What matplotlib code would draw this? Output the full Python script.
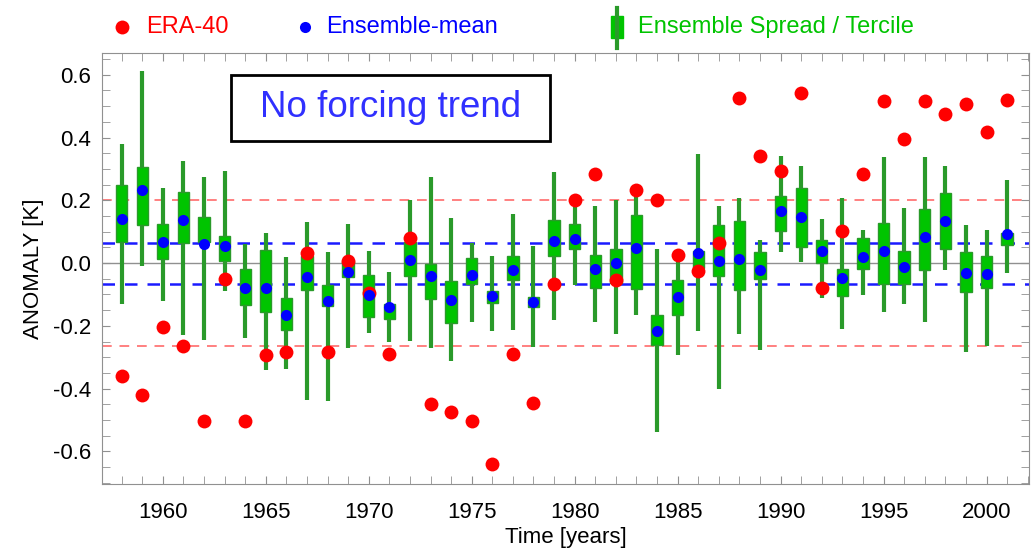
import numpy as np
import matplotlib
matplotlib.use('Agg')
import matplotlib.pyplot as plt
from matplotlib.lines import Line2D
from matplotlib.patches import Rectangle
from matplotlib.ticker import MultipleLocator

plt.rcParams['font.family'] = ['Liberation Sans', 'DejaVu Sans']

years = np.arange(1958, 2002)

# ERA-40 anomalies
era = [-0.360, -0.421, -0.203, -0.265, -0.503, -0.051, -0.503, -0.294, -0.283, 0.032,
       -0.283, 0.007, -0.095, -0.289, 0.079, -0.450, -0.474, -0.503, -0.640, -0.291,
       -0.447, -0.067, 0.200, 0.284, -0.053, 0.233, 0.200, 0.026, -0.026, 0.063,
       0.527, 0.341, 0.294, 0.542, -0.079, 0.101, 0.284, 0.515, 0.394, 0.515,
       0.474, 0.508, 0.418, 0.521]

# ensemble mean
ens_mean = [0.140, 0.233, 0.066, 0.138, 0.060, 0.055, -0.079, -0.079, -0.164, -0.046,
            -0.122, -0.030, -0.103, -0.141, 0.011, -0.042, -0.119, -0.037, -0.106, -0.021,
            -0.124, 0.071, 0.077, -0.018, 0.000, 0.047, -0.217, -0.108, 0.032, 0.005,
            0.013, -0.023, 0.166, 0.148, 0.037, -0.048, 0.019, 0.037, -0.011, 0.083,
            0.135, -0.032, -0.035, 0.093]

# spread (whisker) and tercile (box)
spread_hi = [0.381, 0.611, 0.238, 0.325, 0.273, 0.294, 0.061, 0.097, 0.019, 0.132,
             0.034, 0.125, 0.037, -0.030, 0.201, 0.275, 0.145, 0.063, 0.024, 0.156,
             0.053, 0.291, 0.196, 0.182, 0.201, 0.214, 0.044, 0.008, 0.347, 0.182,
             0.206, 0.072, 0.341, 0.310, 0.140, 0.206, 0.106, 0.337, 0.177, 0.337,
             0.310, 0.122, 0.106, 0.265]
spread_lo = [-0.132, -0.008, -0.122, -0.228, -0.246, -0.090, -0.238, -0.341, -0.339, -0.437,
             -0.439, -0.272, -0.222, -0.252, -0.247, -0.272, -0.312, -0.188, -0.217, -0.212,
             -0.268, -0.180, -0.069, -0.188, -0.225, -0.167, -0.538, -0.294, -0.217, -0.400,
             -0.225, -0.278, 0.034, 0.002, -0.111, -0.210, -0.101, -0.157, -0.132, -0.188,
             -0.023, -0.284, -0.265, -0.032]
terc_hi = [0.249, 0.305, 0.125, 0.228, 0.146, 0.085, -0.019, 0.042, -0.111, 0.021,
           -0.069, 0.005, -0.037, -0.132, 0.066, -0.003, -0.056, 0.016, -0.090, 0.023,
           -0.108, 0.138, 0.125, 0.026, 0.044, 0.153, -0.164, -0.053, 0.037, 0.122,
           0.135, 0.034, 0.215, 0.238, 0.072, -0.018, 0.079, 0.127, 0.039, 0.171,
           0.224, 0.034, 0.023, 0.097]
terc_lo = [0.066, 0.120, 0.013, 0.063, 0.068, 0.005, -0.135, -0.157, -0.212, -0.087,
           -0.138, -0.045, -0.172, -0.178, -0.040, -0.113, -0.190, -0.066, -0.127, -0.055,
           -0.140, 0.021, 0.044, -0.079, -0.063, -0.083, -0.262, -0.164, -0.016, -0.040,
           -0.087, -0.051, 0.101, 0.051, 0.000, -0.106, -0.019, -0.066, -0.066, -0.021,
           0.046, -0.092, -0.079, 0.058]

era_band = [0.200, -0.265]
ens_band = [0.063, -0.068]

fig = plt.figure(figsize=(10.36, 5.56), dpi=100)
ax = fig.add_axes([0.0985, 0.129, 0.8945, 0.776])

grey = '#909090'
ax.axhline(0, color=grey, lw=1, zorder=1)
for v in era_band:
    ax.axhline(v, color='#ff8080', lw=1.4, ls=(0, (5, 4)), zorder=1)
for v in ens_band:
    ax.axhline(v, color='#1a1aff', lw=1.8, ls=(0, (5, 4)), zorder=1)

tl = np.array(terc_lo); th = np.array(terc_hi)
ax.vlines(years, spread_lo, spread_hi, color='#2a9a2a', lw=3, zorder=2)
ax.bar(years, th - tl, bottom=tl, width=0.55, color='#00c400',
       edgecolor='#2a9a2a', lw=1, zorder=3)
ax.plot(years, era, 'o', color='#ff0000', ms=10, mec='none', zorder=4)
ax.plot(years, ens_mean, 'o', color='#0000ff', ms=8, mec='none', zorder=5)

ax.set_xlim(1957.05, 2002.05)
ax.set_ylim(-0.705, 0.67)
ax.xaxis.set_major_locator(MultipleLocator(5))
ax.xaxis.set_minor_locator(MultipleLocator(1))
ax.yaxis.set_major_locator(MultipleLocator(0.2))
ax.yaxis.set_minor_locator(MultipleLocator(0.05))
ax.yaxis.set_major_formatter(plt.FuncFormatter(lambda v, p: '%.1f' % v))
ax.tick_params(which='both', direction='in', top=True, right=True, color=grey,
               length=6, labelsize=16)
ax.tick_params(axis='x', pad=13)
ax.tick_params(axis='y', pad=8)
for s in ax.spines.values():
    s.set_color(grey)
ax.set_xlabel('Time [years]', fontsize=16, labelpad=3)
ax.set_ylabel('ANOMALY [K]', fontsize=16, labelpad=6)

# annotation box
ax.add_patch(Rectangle((0.139, 0.796), 0.344, 0.153, transform=ax.transAxes,
                       facecolor='white', edgecolor='black', lw=2, zorder=6))
ax.text(0.3115, 0.873, 'No forcing trend', transform=ax.transAxes, fontsize=26.5,
        color='#3030ff', ha='center', va='center', zorder=7)

# legend drawn above the axes
ly = 1 - 27 / 556
fig.add_artist(Line2D([122 / 1036], [ly], marker='o', color='#ff0000', ms=10, mec='none',
                      transform=fig.transFigure))
fig.text(146 / 1036, ly, 'ERA-40', color='#ff0000', fontsize=17, va='center')
fig.add_artist(Line2D([305 / 1036], [ly], marker='o', color='#0000ff', ms=8, mec='none',
                      transform=fig.transFigure))
fig.text(326 / 1036, ly, 'Ensemble-mean', color='#0000ff', fontsize=17, va='center')
fig.add_artist(Line2D([617 / 1036, 617 / 1036], [1 - 8 / 556, 1 - 48 / 556], color='#2a9a2a',
                      lw=3, transform=fig.transFigure))
fig.add_artist(Rectangle((611 / 1036, 1 - 38 / 556), 12 / 1036, 22 / 556, color='#00c400',
                         transform=fig.transFigure))
fig.text(638 / 1036, ly, 'Ensemble Spread / Tercile', color='#00c400', fontsize=17, va='center')

fig.savefig('out.png', dpi=100)
